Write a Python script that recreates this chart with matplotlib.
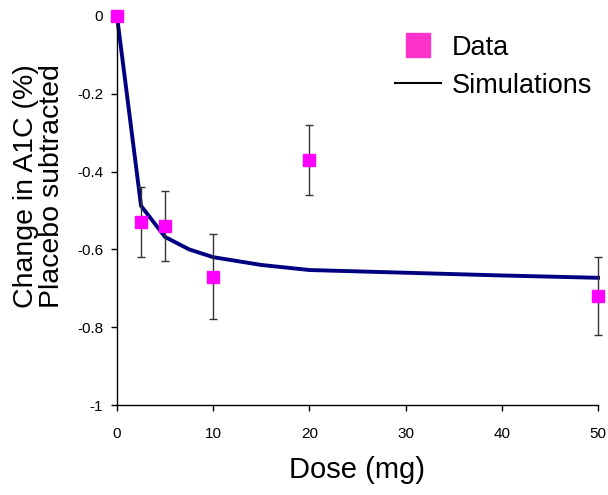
import matplotlib
matplotlib.use("Agg")
import matplotlib.pyplot as plt
from matplotlib.lines import Line2D

plt.rcParams["font.family"] = ["Liberation Sans", "DejaVu Sans"]

# observed data (dose in mg, change in A1C %, placebo subtracted)
dose_data = [0, 2.5, 5, 10, 20, 50]
a1c_data = [0.0, -0.53, -0.54, -0.67, -0.37, -0.72]
a1c_err = [0.0, 0.09, 0.09, 0.11, 0.09, 0.10]

# simulated dose-response
dose_sim = [0, 2.5, 5, 7.5, 10, 15, 20, 30, 40, 50]
a1c_sim = [0.0, -0.488, -0.568, -0.600, -0.620, -0.640, -0.653, -0.660, -0.667, -0.673]

fig = plt.figure(figsize=(6.08, 4.95), dpi=100)
ax = fig.add_axes([0.1924, 0.1818, 0.7912, 0.7859])

ax.plot(dose_sim, a1c_sim, color="#000080", lw=2.8, clip_on=False, zorder=2)
ax.errorbar(dose_data[1:], a1c_data[1:], yerr=a1c_err[1:], fmt="none",
            ecolor="#333333", elinewidth=1.0, capsize=3.2, capthick=1.0,
            clip_on=False, zorder=3)
ax.plot(dose_data, a1c_data, ls="none", marker="s", ms=8.5,
        color="#ff00ff", mec="#ff00ff", clip_on=False, zorder=4)

ax.set_xlim(0, 50)
ax.set_ylim(-1, 0)
ax.set_xticks([0, 10, 20, 30, 40, 50])
ax.set_yticks([0, -0.2, -0.4, -0.6, -0.8, -1])
ax.set_yticklabels(["0", "-0.2", "-0.4", "-0.6", "-0.8", "-1"])
ax.tick_params(labelsize=11, length=4, width=1, direction="out", pad=6)
ax.tick_params(axis="x", pad=12)
for s in ("top", "right"):
    ax.spines[s].set_visible(False)
for s in ("left", "bottom"):
    ax.spines[s].set_linewidth(1.0)

fig.text(0.587, 0.035, "Dose (mg)", fontsize=21, ha="center", va="baseline")
fig.text(0.043, 0.624, "Change in A1C (%)", fontsize=20.5, rotation=90,
         ha="center", va="center")
fig.text(0.085, 0.624, "Placebo subtracted", fontsize=20.5, rotation=90,
         ha="center", va="center")

handles = [
    Line2D([], [], ls="none", marker="s", ms=17, color="#ff33cc"),
    Line2D([], [], color="black", lw=1.5),
]
ax.legend(handles, ["Data", "Simulations"], loc="upper right",
          bbox_to_anchor=(1.013, 0.983), frameon=False, fontsize=19.5,
          handlelength=1.7, handletextpad=0.4, labelspacing=0.45,
          borderaxespad=0.05)

fig.savefig("out.png", dpi=100)
